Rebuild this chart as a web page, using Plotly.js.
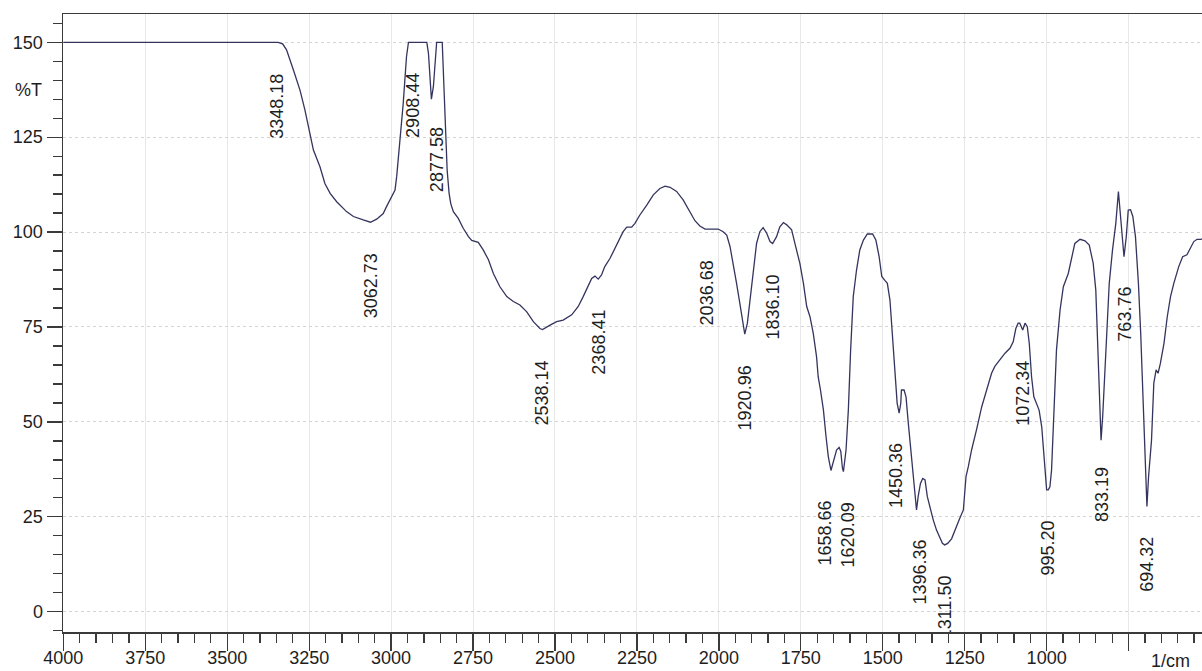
<!DOCTYPE html>
<html>
<head>
<meta charset="utf-8">
<script src="https://cdn.plot.ly/plotly-3.0.1.min.js"></script>
<style>
  html, body { margin: 0; padding: 0; background: #ffffff; overflow: hidden; }
  #chart { width: 1202px; height: 671px; }
</style>
</head>
<body>
<div id="chart"></div>
<script>
// IR transmittance spectrum (wavenumber in 1/cm, transmittance in %T)
const wavenumber = [
  4000, 3345, 3331, 3319, 3298, 3278, 3263, 3247, 3237, 3217, 3202, 3186, 3166, 3136, 3115, 3085, 3063, 3044, 3024, 3014,
  2998, 2988, 2983, 2978, 2973, 2968, 2963, 2958, 2953, 2947, 2891, 2886, 2881, 2877, 2871, 2866, 2861, 2844, 2841, 2838,
  2834, 2829, 2823, 2818, 2810, 2795, 2780, 2764, 2754, 2734, 2719, 2703, 2688, 2668, 2647, 2627, 2607, 2586, 2566, 2546,
  2538, 2531, 2515, 2495, 2475, 2449, 2429, 2414, 2403, 2388, 2378, 2368, 2358, 2348, 2332, 2322, 2307, 2292, 2281, 2266,
  2256, 2241, 2220, 2200, 2180, 2164, 2149, 2129, 2109, 2088, 2073, 2058, 2042, 2022, 2002, 1987, 1976, 1966, 1956, 1946,
  1936, 1928, 1921, 1913, 1905, 1895, 1885, 1875, 1865, 1854, 1844, 1836, 1824, 1814, 1803, 1793, 1778, 1768, 1753, 1742,
  1732, 1722, 1712, 1702, 1697, 1690, 1681, 1673, 1666, 1658, 1649, 1641, 1633, 1628, 1623, 1620, 1612, 1605, 1598, 1590,
  1580, 1570, 1559, 1547, 1531, 1521, 1511, 1503, 1493, 1486, 1478, 1470, 1463, 1456, 1450, 1445, 1443, 1435, 1429, 1422,
  1415, 1407, 1397, 1392, 1385, 1378, 1371, 1364, 1354, 1346, 1336, 1326, 1318, 1311, 1302, 1290, 1280, 1265, 1254, 1246,
  1239, 1229, 1214, 1198, 1183, 1168, 1158, 1143, 1127, 1112, 1102, 1094, 1087, 1082, 1073, 1066, 1059, 1053, 1046, 1039,
  1031, 1023, 1015, 1008, 1000, 995, 990, 985, 978, 970, 959, 949, 934, 924, 914, 898, 883, 870, 858, 850,
  843, 838, 834, 829, 819, 809, 799, 789, 781, 774, 769, 764, 757, 751, 744, 737, 729, 720, 713, 706,
  699, 696, 694, 689, 680, 673, 666, 660, 653, 642, 632, 622, 612, 597, 585, 572, 562, 551, 541, 529,
  520
];
const transmittance = [
  150, 150, 149.6, 148.0, 142.7, 137.4, 132.2, 125.1, 121.6, 117.2, 112.8, 110.2, 108.0, 105.4, 104.1, 103.2, 102.6, 103.4, 104.9, 106.7,
  109.6, 111.1, 114.6, 119.0, 124.3, 128.7, 133.9, 140.1, 146.2, 150, 150, 147.1, 140.1, 135.0, 138.3, 144.5, 150, 150, 142.7, 133.9,
  125.1, 116.3, 110.2, 107.5, 105.4, 103.6, 101.0, 98.8, 97.8, 97.3, 95.3, 92.7, 89.1, 85.6, 83.0, 81.7, 80.8, 79.0, 76.4, 74.6,
  74.3, 74.6, 75.5, 76.4, 76.8, 78.2, 80.4, 83.0, 85.2, 87.8, 88.4, 87.6, 88.7, 90.9, 93.1, 94.8, 97.5, 100.1, 101.3, 101.3,
  102.3, 104.5, 107.1, 109.8, 111.5, 112.1, 111.8, 110.7, 108.5, 105.4, 103.0, 101.6, 100.8, 100.8, 100.8, 100.1, 99.2, 96.2, 91.8, 86.5,
  81.2, 76.8, 73.1, 76.0, 82.1, 90.0, 97.0, 100.1, 101.2, 99.7, 97.5, 97.0, 98.8, 101.4, 102.5, 101.9, 100.6, 97.0, 91.8, 86.5,
  80.4, 77.7, 73.3, 67.2, 61.9, 58.4, 53.1, 46.1, 40.8, 37.2, 40.0, 42.6, 43.3, 42.2, 37.8, 36.9, 42.6, 53.1, 68.9, 83.0,
  90.0, 95.3, 97.9, 99.5, 99.5, 97.9, 93.5, 88.3, 87.2, 86.5, 82.1, 73.3, 63.5, 54.9, 52.3, 54.9, 58.4, 58.4, 56.6, 49.6,
  42.6, 35.6, 26.8, 30.3, 33.8, 35.1, 34.7, 30.3, 26.8, 24.2, 21.5, 19.3, 18.0, 17.6, 18.0, 19.2, 21.5, 24.6, 26.8, 35.6,
  38.2, 42.6, 47.9, 54.0, 58.4, 62.8, 64.6, 66.3, 68.1, 69.4, 71.1, 74.6, 76.0, 76.0, 74.2, 76.0, 75.1, 70.7, 61.9, 56.6,
  54.9, 53.1, 48.7, 40.8, 32.1, 32.1, 32.9, 37.3, 51.4, 68.9, 79.5, 85.6, 89.1, 93.5, 97.0, 98.1, 97.7, 96.6, 91.8, 84.7,
  68.9, 53.1, 45.2, 51.4, 68.9, 86.5, 95.3, 102.3, 110.7, 104.1, 98.8, 93.5, 98.8, 105.8, 105.9, 104.1, 98.8, 86.5, 73.3, 55.8,
  38.2, 29.4, 27.7, 35.6, 45.2, 60.2, 63.7, 62.8, 65.4, 70.7, 77.7, 83.0, 86.5, 90.9, 93.5, 94.0, 95.7, 97.5, 98.1, 98.1,
  98.4
];

// Picked peak positions (1/cm)
const peaks = [
  3348.18, 3062.73, 2908.44, 2877.58, 2538.14, 2368.41, 2036.68, 1920.96, 1836.10, 1658.66,
  1620.09, 1450.36, 1396.36, 1311.50, 1072.34, 995.20, 833.19, 763.76, 694.32
];

// Axis ticks
const xTickValues = [4000, 3750, 3500, 3250, 3000, 2750, 2500, 2250, 2000, 1750, 1500, 1250, 1000, 750];
const xTickLabels = ['4000', '3750', '3500', '3250', '3000', '2750', '2500', '2250', '2000', '1750', '1500', '1250', '1000', ''];
const yTickValues = [0, 25, 50, 75, 100, 125, 150];
const yTickLabels = ['0', '25', '50', '75', '100', '125', '150'];

// Sideways nudges (px) that keep crowded peak labels apart
const labelNudge = { '2908.44': -8, '2877.58': 6, '1658.66': -6, '1620.09': 5, '1450.36': -3, '1396.36': 3 };

const FONT = 'Liberation Sans, Arial, Helvetica, sans-serif';
const AXIS_COLOR = '#3a3a3a';
const TEXT_COLOR = '#1e1e1e';

// Transmittance of the trace at a given wavenumber (x is descending)
function traceValueAt(x) {
  for (let i = 0; i < wavenumber.length - 1; i++) {
    const x0 = wavenumber[i], x1 = wavenumber[i + 1];
    if (x <= x0 && x >= x1) {
      const t = (x0 - x) / (x0 - x1);
      return transmittance[i] + t * (transmittance[i + 1] - transmittance[i]);
    }
  }
  return transmittance[transmittance.length - 1];
}

const peakAnnotations = peaks.map(p => ({
  x: p,
  y: traceValueAt(p),
  xref: 'x', yref: 'y',
  text: p.toFixed(2),
  textangle: -90,
  showarrow: false,
  xanchor: 'center',
  yanchor: 'top',
  yshift: -30,
  xshift: labelNudge[p.toFixed(2)] || 0,
  font: { family: FONT, size: 18, color: TEXT_COLOR },
  borderpad: 0
}));

const axisNotes = [
  {
    text: '%T', xref: 'paper', x: 0, xanchor: 'right', xshift: -19,
    yref: 'y', y: 137.3, yanchor: 'middle', showarrow: false,
    font: { family: FONT, size: 18, color: TEXT_COLOR }
  },
  {
    text: '1/cm', xref: 'paper', x: 0.972, xanchor: 'center',
    yref: 'paper', y: 0, yanchor: 'top', yshift: -17, showarrow: false,
    font: { family: FONT, size: 18, color: TEXT_COLOR }
  }
];

const trace = {
  x: wavenumber,
  y: transmittance,
  type: 'scatter',
  mode: 'lines',
  line: { color: '#34345e', width: 1.3 },
  hoverinfo: 'x+y'
};

const layout = {
  width: 1202,
  height: 671,
  margin: { l: 63, r: 0, t: 14, b: 39, pad: 0 },
  paper_bgcolor: '#ffffff',
  plot_bgcolor: '#ffffff',
  showlegend: false,
  font: { family: FONT, size: 18, color: TEXT_COLOR },
  xaxis: {
    range: [4001, 526],
    autorange: false,
    tickmode: 'array',
    tickvals: xTickValues,
    ticktext: xTickLabels,
    ticks: 'outside',
    ticklen: 17,
    tickwidth: 1.3,
    tickcolor: AXIS_COLOR,
    ticklabelstandoff: -8,
    tickfont: { family: FONT, size: 18, color: TEXT_COLOR },
    showline: true,
    linecolor: AXIS_COLOR,
    linewidth: 1.5,
    mirror: true,
    showgrid: true,
    gridcolor: '#e8e8e8',
    gridwidth: 1,
    zeroline: false,
    minor: {
      tickmode: 'linear', tick0: 0, dtick: 50,
      ticks: 'outside', ticklen: 9, tickwidth: 1.3, tickcolor: AXIS_COLOR,
      showgrid: false
    }
  },
  yaxis: {
    range: [-5.35, 157.45],
    autorange: false,
    tickmode: 'array',
    tickvals: yTickValues,
    ticktext: yTickLabels,
    ticks: 'outside',
    ticklen: 15,
    tickwidth: 1.3,
    tickcolor: AXIS_COLOR,
    tickfont: { family: FONT, size: 18, color: TEXT_COLOR },
    showline: true,
    linecolor: AXIS_COLOR,
    linewidth: 1.5,
    mirror: false,
    showgrid: true,
    gridcolor: '#d4d4d4',
    griddash: 'dot',
    gridwidth: 1,
    zeroline: false,
    minor: {
      tickmode: 'linear', tick0: 0, dtick: 5,
      ticks: 'outside', ticklen: 9, tickwidth: 1.3, tickcolor: AXIS_COLOR,
      showgrid: false
    }
  },
  annotations: peakAnnotations.concat(axisNotes)
};

const gd = document.getElementById('chart');
Plotly.newPlot(gd, [trace], layout, { displayModeBar: false, staticPlot: true }).then(() => {
  // Peak labels are cut off at the edges of the plotting area
  const size = gd._fullLayout._size;
  const svgNS = 'http://www.w3.org/2000/svg';
  const nodes = gd.querySelectorAll('g.annotation');
  nodes.forEach(node => {
    const idx = +node.getAttribute('data-index');
    if (!(idx < peaks.length)) return;
    const svg = node.ownerSVGElement;
    let clip = svg.querySelector('#peak-label-clip');
    if (!clip) {
      const defs = document.createElementNS(svgNS, 'defs');
      clip = document.createElementNS(svgNS, 'clipPath');
      clip.setAttribute('id', 'peak-label-clip');
      clip.setAttribute('clipPathUnits', 'userSpaceOnUse');
      const rect = document.createElementNS(svgNS, 'rect');
      rect.setAttribute('x', size.l);
      rect.setAttribute('y', size.t);
      rect.setAttribute('width', size.w);
      rect.setAttribute('height', size.h);
      clip.appendChild(rect);
      defs.appendChild(clip);
      svg.insertBefore(defs, svg.firstChild);
    }
    const wrap = document.createElementNS(svgNS, 'g');
    wrap.setAttribute('clip-path', 'url(#peak-label-clip)');
    node.parentNode.insertBefore(wrap, node);
    wrap.appendChild(node);
  });
});
</script>
</body>
</html>
